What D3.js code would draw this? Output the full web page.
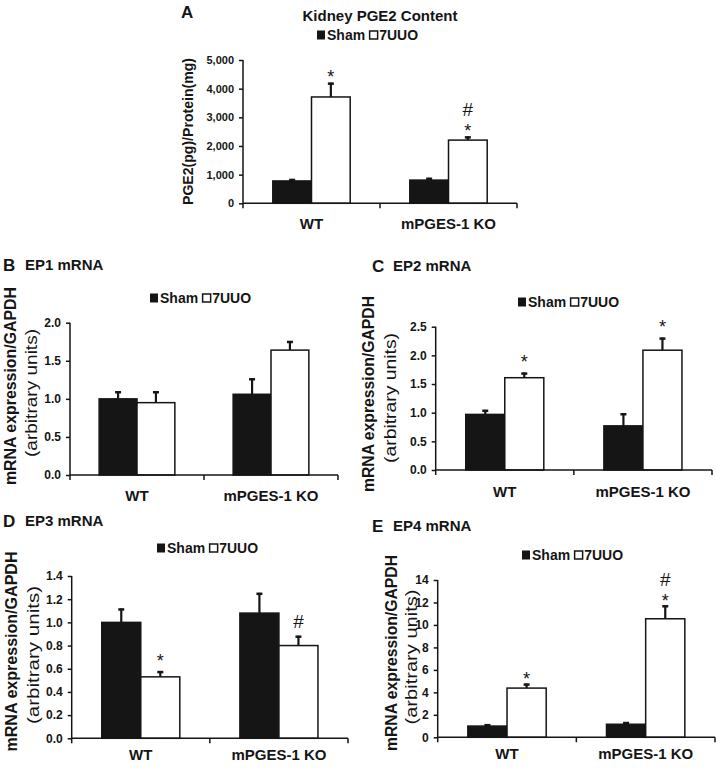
<!DOCTYPE html>
<html><head><meta charset="utf-8">
<script src="https://cdn.jsdelivr.net/npm/d3@7"></script>
<style>
html,body{margin:0;padding:0;background:#fff;}
svg{display:block;font-family:"Liberation Sans",Arial,sans-serif;}
</style></head>
<body>
<svg id="chart" width="716" height="768"></svg>
<script>
// ---------------- DATA ----------------
const categories = ["WT", "mPGES-1 KO"];
const seriesNames = ["Sham", "7UUO"];

// Panel A: Kidney PGE2 content (pg/mg protein)
const pge2Sham = [780, 810];
const pge2ShamErr = [70, 80];
const pge2Uuo = [3710, 2205];
const pge2UuoErr = [500, 130];
const pge2Ticks = [0, 1000, 2000, 3000, 4000, 5000];

// Panel B: EP1 mRNA
const ep1Sham = [1.0, 1.06];
const ep1ShamErr = [0.10, 0.21];
const ep1Uuo = [0.95, 1.64];
const ep1UuoErr = [0.15, 0.12];
const ep1Ticks = [0, 0.5, 1.0, 1.5, 2.0];

// Panel C: EP2 mRNA
const ep2Sham = [0.97, 0.77];
const ep2ShamErr = [0.08, 0.22];
const ep2Uuo = [1.61, 2.09];
const ep2UuoErr = [0.09, 0.22];
const ep2Ticks = [0, 0.5, 1.0, 1.5, 2.0, 2.5];

// Panel D: EP3 mRNA
const ep3Sham = [1.0, 1.08];
const ep3ShamErr = [0.12, 0.175];
const ep3Uuo = [0.53, 0.80];
const ep3UuoErr = [0.05, 0.085];
const ep3Ticks = [0, 0.2, 0.4, 0.6, 0.8, 1.0, 1.2, 1.4];

// Panel E: EP4 mRNA
const ep4Sham = [1.0, 1.16];
const ep4ShamErr = [0.17, 0.2];
const ep4Uuo = [4.38, 10.55];
const ep4UuoErr = [0.4, 1.2];
const ep4Ticks = [0, 2, 4, 6, 8, 10, 12, 14];

// significance marks over 7UUO bars, per category (bottom to top)
const pge2Marks = [["*"], ["*", "#"]];
const ep1Marks = [[], []];
const ep2Marks = [["*"], ["*"]];
const ep3Marks = [["*"], ["#"]];
const ep4Marks = [["*"], ["*", "#"]];

// ---------------- LAYOUT ----------------
const svg = d3.select("#chart");
const INK = "#151515";

const panels = [
  { letter: "A", title: "Kidney PGE2 Content", titleCentered: true,
    letterX: 181, letterY: 17.5, titleX: 380, titleY: 21, letterSize: 17, titleSize: 15,
    legendX: 317, legendY: 35,
    x0: 243, x1: 517, yTop: 60, yBot: 203.3,
    sham: pge2Sham, shamErr: pge2ShamErr, uuo: pge2Uuo, uuoErr: pge2UuoErr,
    ticks: pge2Ticks, fmt: d3.format(","), tickSize: 11,
    marks: pge2Marks, markOff: [10, 17],
    ylab: ["PGE2(pg)/Protein(mg)"], ylabX: [188.5], ylabY: [131.5], ylabLen: [147],
    xlabDy: 20 },
  { letter: "B", title: "EP1 mRNA",
    letterX: 3, letterY: 271, titleX: 25, titleY: 270, letterSize: 17, titleSize: 15,
    legendX: 150, legendY: 298,
    x0: 70, x1: 338, yTop: 322.7, yBot: 475,
    sham: ep1Sham, shamErr: ep1ShamErr, uuo: ep1Uuo, uuoErr: ep1UuoErr,
    ticks: ep1Ticks, fmt: d3.format(".1f"), tickSize: 12,
    marks: ep1Marks, markOff: [14, 17],
    ylab: ["mRNA expression/GAPDH", "(arbitrary units)"], ylabX: [10, 31.5], ylabY: [386, 393], ylabLen: [198, 128],
    xlabDy: 21 },
  { letter: "C", title: "EP2 mRNA",
    letterX: 372, letterY: 272, titleX: 393, titleY: 271, letterSize: 17, titleSize: 15,
    legendX: 518, legendY: 302,
    x0: 435.7, x1: 712, yTop: 326.7, yBot: 470,
    sham: ep2Sham, shamErr: ep2ShamErr, uuo: ep2Uuo, uuoErr: ep2UuoErr,
    ticks: ep2Ticks, fmt: d3.format(".1f"), tickSize: 12,
    marks: ep2Marks, markOff: [14.5, 17],
    ylab: ["mRNA expression/GAPDH", "(arbitrary units)"], ylabX: [368.5, 390], ylabY: [394, 398], ylabLen: [196, 130],
    xlabDy: 22 },
  { letter: "D", title: "EP3 mRNA",
    letterX: 3, letterY: 527, titleX: 25, titleY: 526, letterSize: 17, titleSize: 15,
    legendX: 157, legendY: 548,
    x0: 71.7, x1: 348, yTop: 576, yBot: 738.3,
    sham: ep3Sham, shamErr: ep3ShamErr, uuo: ep3Uuo, uuoErr: ep3UuoErr,
    ticks: ep3Ticks, fmt: d3.format(".1f"), tickSize: 12,
    marks: ep3Marks, markOff: [14, 17],
    ylab: ["mRNA expression/GAPDH", "(arbitrary units)"], ylabX: [11.5, 33.5], ylabY: [651.5, 655], ylabLen: [200, 138],
    xlabDy: 16 },
  { letter: "E", title: "EP4 mRNA",
    letterX: 372, letterY: 532, titleX: 393, titleY: 531, letterSize: 17, titleSize: 15,
    legendX: 522, legendY: 555,
    x0: 437.7, x1: 715, yTop: 580, yBot: 737.3,
    sham: ep4Sham, shamErr: ep4ShamErr, uuo: ep4Uuo, uuoErr: ep4UuoErr,
    ticks: ep4Ticks, fmt: d3.format("d"), tickSize: 12,
    marks: ep4Marks, markOff: [8.5, 17],
    ylab: ["mRNA expression/GAPDH", "(arbitrary units)"], ylabX: [391, 411.5], ylabY: [653, 657], ylabLen: [196, 135],
    xlabDy: 16 }
];

panels.forEach(drawPanel);

function drawPanel(p) {
  const g = svg.append("g");

  // letter + title
  g.append("text").attr("x", p.letterX).attr("y", p.letterY)
    .attr("font-size", p.letterSize).attr("font-weight", "bold").attr("fill", INK).text(p.letter);
  g.append("text").attr("x", p.titleX).attr("y", p.titleY)
    .attr("text-anchor", p.titleCentered ? "middle" : "start")
    .attr("font-size", p.titleSize).attr("font-weight", "bold").attr("fill", INK).text(p.title);

  // legend
  const lg = g.append("g").attr("transform", `translate(${p.legendX},${p.legendY})`);
  lg.append("rect").attr("x", 0).attr("y", -4.5).attr("width", 8).attr("height", 9).attr("fill", INK);
  const t1 = lg.append("text").attr("x", 10).attr("y", 0).attr("dy", "0.36em")
    .attr("font-size", 14).attr("font-weight", "bold").attr("fill", INK).text(seriesNames[0]);
  const w1 = t1.node().getComputedTextLength();
  lg.append("rect").attr("x", 10 + w1 + 4.5).attr("y", -4).attr("width", 8).attr("height", 8)
    .attr("fill", "#fff").attr("stroke", INK).attr("stroke-width", 1.5);
  lg.append("text").attr("x", 10 + w1 + 14).attr("y", 0).attr("dy", "0.36em")
    .attr("font-size", 14).attr("font-weight", "bold").attr("fill", INK).text(seriesNames[1]);

  // scales
  const domainMax = p.ticks[p.ticks.length - 1];
  const y = d3.scaleLinear().domain([0, domainMax]).range([p.yBot, p.yTop]);
  const x = d3.scaleBand().domain(categories).range([p.x0, p.x1]).padding(0);
  const groupFrac = 0.565;
  const xs = d3.scaleBand().domain(seriesNames)
    .range([0, x.bandwidth() * groupFrac]).padding(0);
  const gOff = x.bandwidth() * (1 - groupFrac) / 2;

  // y axis
  const yAxis = d3.axisLeft(y).tickValues(p.ticks).tickFormat(p.fmt).tickSize(4).tickPadding(5);
  const ya = g.append("g").attr("transform", `translate(${p.x0},0)`).call(yAxis);
  ya.select(".domain").attr("stroke", INK).attr("stroke-width", 1.5).attr("d", `M0,${p.yTop}V${p.yBot}`);
  ya.selectAll(".tick line").attr("stroke", INK).attr("stroke-width", 1.5);
  ya.selectAll(".tick text").attr("font-size", p.tickSize).attr("font-weight", "bold")
    .attr("fill", INK).attr("font-family", "Liberation Sans, Arial, sans-serif");

  // bars
  const rows = categories.map((c, i) => [
    { cat: c, s: seriesNames[0], v: p.sham[i], e: p.shamErr[i], m: [] },
    { cat: c, s: seriesNames[1], v: p.uuo[i], e: p.uuoErr[i], m: p.marks[i] }
  ]).flat();

  const bx = d => x(d.cat) + gOff + xs(d.s);

  // error bars (drawn behind bars)
  rows.forEach(d => {
    const cx = bx(d) + xs.bandwidth() / 2;
    g.append("line").attr("x1", cx).attr("x2", cx)
      .attr("y1", y(d.v)).attr("y2", y(d.v + d.e))
      .attr("stroke", INK).attr("stroke-width", 2.2);
    g.append("line").attr("x1", cx - 3).attr("x2", cx + 3)
      .attr("y1", y(d.v + d.e) + 1).attr("y2", y(d.v + d.e) + 1)
      .attr("stroke", INK).attr("stroke-width", 2.5);
  });

  g.selectAll("rect.bar").data(rows).enter().append("rect")
    .attr("class", "bar")
    .attr("x", d => bx(d))
    .attr("y", d => y(d.v))
    .attr("width", xs.bandwidth())
    .attr("height", d => p.yBot - y(d.v))
    .attr("fill", d => d.s === "Sham" ? INK : "#fff")
    .attr("stroke", INK).attr("stroke-width", 1.5);

  // significance marks (positioned by glyph centre)
  rows.forEach(d => {
    const cx = bx(d) + xs.bandwidth() / 2;
    let c = y(d.v + d.e) - p.markOff[0];
    d.m.forEach((m, k) => {
      if (k > 0) c -= p.markOff[1];
      if (m === "*") {
        g.append("text").attr("x", cx).attr("y", c + 0.575 * 18)
          .attr("text-anchor", "middle").attr("font-size", 18).attr("fill", INK).text("*");
      } else {
        g.append("text").attr("x", cx).attr("y", c + 0.35 * 19)
          .attr("text-anchor", "middle").attr("font-size", 19).attr("fill", INK).text("#");
      }
    });
  });

  // x axis
  const xa = g.append("g");
  xa.append("line").attr("x1", p.x0).attr("x2", p.x1).attr("y1", p.yBot).attr("y2", p.yBot)
    .attr("stroke", INK).attr("stroke-width", 1.5);
  [0, 1, 2].forEach(i => {
    const tx = p.x0 + i * x.bandwidth();
    xa.append("line").attr("x1", tx).attr("x2", tx).attr("y1", p.yBot).attr("y2", p.yBot + 5)
      .attr("stroke", INK).attr("stroke-width", 1.5);
  });
  categories.forEach(c => {
    xa.append("text").attr("x", x(c) + x.bandwidth() / 2).attr("y", p.yBot + p.xlabDy)
      .attr("dy", "0.35em").attr("text-anchor", "middle")
      .attr("font-size", 15).attr("font-weight", "bold").attr("fill", INK).text(c);
  });

  // y labels
  p.ylab.forEach((lab, i) => {
    g.append("text")
      .attr("transform", `translate(${p.ylabX[i]},${p.ylabY[i]}) rotate(-90)`)
      .attr("text-anchor", "middle").attr("dy", "0.35em")
      .attr("font-size", i === 0 ? (p.ylab.length === 1 ? 14 : 16) : 16)
      .attr("font-weight", i === 0 ? "bold" : "normal")
      .attr("textLength", p.ylabLen[i]).attr("lengthAdjust", "spacingAndGlyphs")
      .attr("fill", INK).text(lab);
  });
}
</script>
</body></html>
